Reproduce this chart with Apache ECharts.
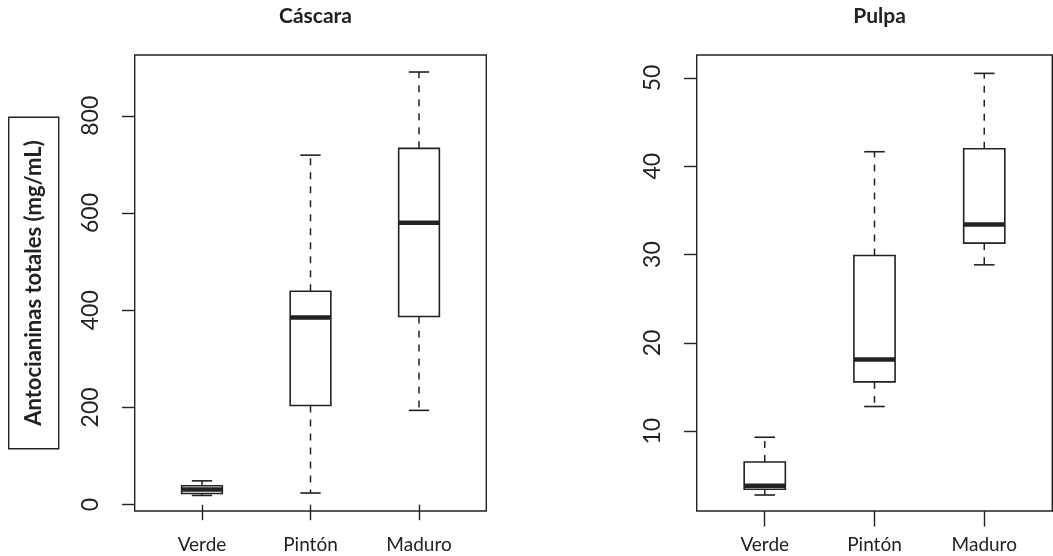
<!DOCTYPE html>
<html>
<head>
<meta charset="utf-8">
<script src="https://cdn.jsdelivr.net/npm/echarts@6/dist/echarts.min.js"></script>
<style>
html,body{margin:0;padding:0;background:#fff;}
#chart{width:1053px;height:556px;}
</style>
</head>
<body>
<div id="chart"></div>
<script>
// ---- data ----
const categories = ['Verde', 'Pintón', 'Maduro'];

const cascaraLow    = [19, 24, 194];
const cascaraQ1     = [23, 204, 387];
const cascaraMedian = [31, 385, 580];
const cascaraQ3     = [39, 439, 733];
const cascaraHigh   = [49, 719, 890];

const pulpaLow    = [2.78, 12.8, 28.84];
const pulpaQ1     = [3.43, 15.59, 31.3];
const pulpaMedian = [3.84, 18.11, 33.41];
const pulpaQ3     = [6.52, 29.9, 41.99];
const pulpaHigh   = [9.32, 41.65, 50.52];

const cascaraTicks = [0, 200, 400, 600, 800];
const pulpaTicks = [10, 20, 30, 40, 50];
const categoryTicks = [1, 2, 3];

const titles = ['Cáscara', 'Pulpa'];
const yName = 'Antocianinas totales (mg/mL)';

// ---- chart ----
const INK = '#222';
const FONT = 'Lato';
const BOX_W = 0.375;

function build(low, q1, med, q3, high) {
  return categories.map((c, i) => [i + 1, low[i], q1[i], med[i], q3[i], high[i]]);
}

function renderBox(params, api) {
  const x = api.value(0);
  const lo = api.value(1), a = api.value(2), m = api.value(3), b = api.value(4), hi = api.value(5);
  const pLo = api.coord([x, lo]), pA = api.coord([x, a]), pM = api.coord([x, m]),
        pB = api.coord([x, b]), pHi = api.coord([x, hi]);
  const w = api.size([BOX_W, 0])[0];
  const cx = pM[0];
  const dash = { stroke: INK, lineWidth: 1.5, lineDash: [7, 7] };
  const solid = { stroke: INK, lineWidth: 1.6 };
  return {
    type: 'group',
    children: [
      { type: 'line', shape: { x1: cx, y1: pB[1], x2: cx, y2: pHi[1] }, style: dash },
      { type: 'line', shape: { x1: cx, y1: pA[1], x2: cx, y2: pLo[1] }, style: dash },
      { type: 'line', shape: { x1: cx - w / 4, y1: pHi[1], x2: cx + w / 4, y2: pHi[1] }, style: solid },
      { type: 'line', shape: { x1: cx - w / 4, y1: pLo[1], x2: cx + w / 4, y2: pLo[1] }, style: solid },
      { type: 'rect', shape: { x: cx - w / 2, y: pB[1], width: w, height: pA[1] - pB[1] },
        style: { fill: '#fff', stroke: INK, lineWidth: 1.6 } },
      { type: 'line', shape: { x1: cx - w / 2, y1: pM[1], x2: cx + w / 2, y2: pM[1] },
        style: { stroke: INK, lineWidth: 4.5 } }
    ]
  };
}

function xAxis(gridIndex) {
  return {
    type: 'value', gridIndex: gridIndex, min: 0.38, max: 3.62,
    splitLine: { show: false },
    axisLine: { show: false },
    axisTick: { show: true, inside: false, length: 15.5, customValues: categoryTicks,
      lineStyle: { color: INK, width: 1.4 } },
    axisLabel: { customValues: categoryTicks, margin: 24,
      formatter: v => categories[Math.round(v) - 1],
      fontFamily: FONT, fontSize: 19, color: INK }
  };
}

function yAxis(gridIndex, min, max, ticks, extra) {
  return Object.assign({
    type: 'value', gridIndex: gridIndex, min: min, max: max,
    splitLine: { show: false },
    axisLine: { show: false },
    axisTick: { show: true, inside: false, length: 12.7, customValues: ticks,
      lineStyle: { color: INK, width: 1.4 } },
    axisLabel: { customValues: ticks, rotate: 90, margin: 33,
      fontFamily: FONT, fontSize: 23, color: INK }
  }, extra || {});
}

const chart = echarts.init(document.getElementById('chart'), null, { renderer: 'canvas' });
chart.setOption({
  animation: false,
  backgroundColor: '#fff',
  title: [
    { text: titles[0], left: 310.5, top: 1, textAlign: 'center',
      textStyle: { fontFamily: FONT, fontSize: 21, fontWeight: 'bold', color: INK } },
    { text: titles[1], left: 874.5, top: 1, textAlign: 'center',
      textStyle: { fontFamily: FONT, fontSize: 21, fontWeight: 'bold', color: INK } }
  ],
  grid: [
    { left: 134.7, top: 55, width: 351.6, height: 456, show: true,
      borderColor: INK, borderWidth: 1.4, backgroundColor: 'transparent' },
    { left: 696.7, top: 55, width: 355.6, height: 456, show: true,
      borderColor: INK, borderWidth: 1.4, backgroundColor: 'transparent' }
  ],
  xAxis: [xAxis(0), xAxis(1)],
  yAxis: [
    yAxis(0, -13, 925, cascaraTicks, {
      name: yName, nameLocation: 'middle', nameGap: 76, nameRotate: 90,
      nameTextStyle: { fontFamily: FONT, fontSize: 22, fontWeight: 'bold', color: INK,
        borderColor: INK, borderWidth: 1.4, padding: [14, 23, 14, 23] }
    }),
    yAxis(1, 0.97, 52.6, pulpaTicks)
  ],
  series: [
    { type: 'custom', xAxisIndex: 0, yAxisIndex: 0, renderItem: renderBox,
      data: build(cascaraLow, cascaraQ1, cascaraMedian, cascaraQ3, cascaraHigh) },
    { type: 'custom', xAxisIndex: 1, yAxisIndex: 1, renderItem: renderBox,
      data: build(pulpaLow, pulpaQ1, pulpaMedian, pulpaQ3, pulpaHigh) }
  ]
});
</script>
</body>
</html>
